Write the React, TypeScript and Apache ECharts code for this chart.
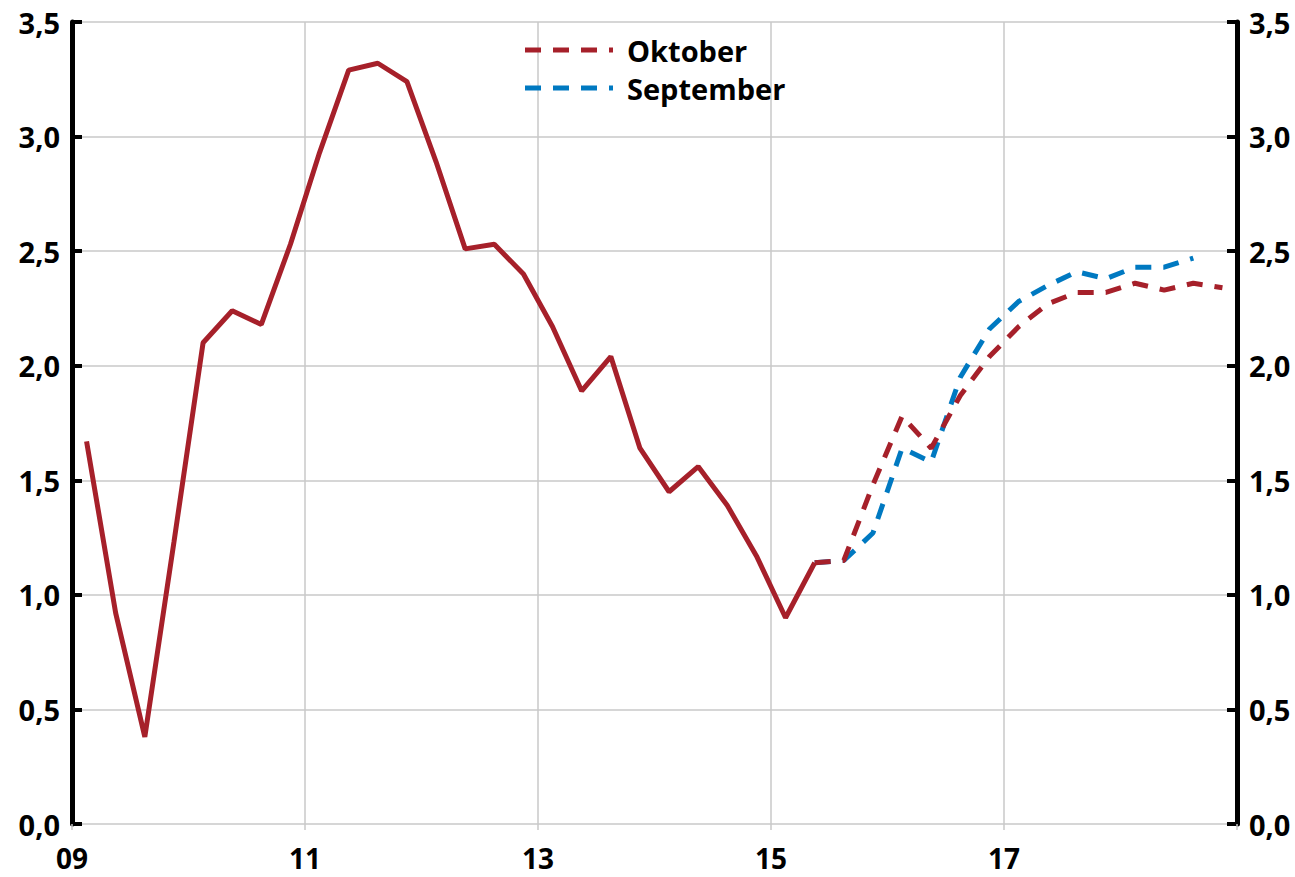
import React, { useEffect, useRef } from "react";
import * as echarts from "echarts";

// Quarterly data, 2009Q1 = index 0
const xTickLabels = ["09", "11", "13", "15", "17"];

// History (2009Q1 .. 2015Q2)
const historyValues = [
  1.67, 0.92, 0.38, 1.23, 2.1, 2.24, 2.18, 2.53, 2.93, 3.29, 3.32, 3.24, 2.89,
  2.51, 2.53, 2.4, 2.17, 1.89, 2.04, 1.64, 1.45, 1.56, 1.39, 1.17, 0.9, 1.14,
];
// Forecasts start at 2015Q2 (index 25)
const forecastStart = 25;
const oktoberValues = [
  1.14, 1.15, 1.48, 1.78, 1.64, 1.87, 2.04, 2.17, 2.27, 2.32, 2.32, 2.36, 2.33,
  2.36, 2.34,
];
const septemberValues = [
  1.14, 1.15, 1.27, 1.64, 1.58, 1.95, 2.16, 2.28, 2.35, 2.41, 2.38, 2.43, 2.43,
  2.47,
];
const legendNames = ["Oktober", "September"];

const RED = "#A6202A";
const BLUE = "#0079C1";
const FONT = "'Open Sans', 'Noto Sans', sans-serif";
const DASH = [16, 12];

const toPoints = (vals: number[], start: number) =>
  vals.map((v, i) => [start + i + 0.5, v]);

export default function App() {
  const ref = useRef<HTMLDivElement>(null);
  useEffect(() => {
    document.body.style.margin = "0";
    const chart = echarts.init(ref.current!, null, { renderer: "svg" });
    const yAxisCommon = {
      type: "value" as const,
      min: 0,
      max: 3.5,
      interval: 0.5,
      axisLine: { show: true, lineStyle: { color: "#000", width: 5 } },
      axisTick: {
        show: true,
        inside: true,
        length: 10,
        lineStyle: { color: "#000", width: 4 },
      },
      axisLabel: {
        color: "#000",
        fontFamily: FONT,
        fontWeight: "bold" as const,
        fontSize: 29,
        margin: 12,
        formatter: (v: number) => v.toFixed(1).replace(".", ","),
      },
    };
    const legendColors = [RED, BLUE];
    const legendGraphics: any[] = [];
    legendNames.forEach((name, i) => {
      const y = 50 + i * 38;
      legendGraphics.push({
        type: "line",
        shape: { x1: 525, y1: y, x2: 613, y2: y },
        style: { stroke: legendColors[i], lineWidth: 5, lineDash: DASH },
        z: 10,
      });
      legendGraphics.push({
        type: "text",
        x: 627,
        y: y,
        style: {
          text: name,
          fill: "#000",
          font: `bold 29px ${FONT}`,
          verticalAlign: "middle",
          align: "left",
        },
        z: 10,
      });
    });
    chart.setOption({
      animation: false,
      grid: { left: 72, right: 58, top: 22, bottom: 53, containLabel: false },
      graphic: legendGraphics,
      xAxis: {
        type: "value",
        min: 0,
        max: 40,
        interval: 8,
        axisLine: { show: false },
        axisTick: {
          show: true,
          length: 6,
          lineStyle: { color: "#c8c8c8", width: 1.5 },
        },
        splitLine: { show: true, lineStyle: { color: "#c8c8c8", width: 1.5 } },
        axisLabel: {
          color: "#000",
          fontFamily: FONT,
          fontWeight: "bold",
          fontSize: 28,
          lineHeight: 28,
          margin: 20,
          formatter: (v: number) => xTickLabels[Math.round(v / 8)] ?? "",
        },
      },
      yAxis: [
        {
          ...yAxisCommon,
          position: "left",
          splitLine: { show: true, lineStyle: { color: "#c8c8c8", width: 1.5 } },
        },
        {
          ...yAxisCommon,
          position: "right",
          splitLine: { show: false },
        },
      ],
      series: [
        {
          name: "September",
          type: "line",
          data: toPoints(septemberValues, forecastStart),
          showSymbol: false,
          symbol: "none",
          lineStyle: { color: BLUE, width: 5, type: DASH },
          itemStyle: { color: BLUE },
          z: 2,
        },
        {
          name: "Oktober",
          type: "line",
          data: toPoints(oktoberValues, forecastStart),
          showSymbol: false,
          symbol: "none",
          lineStyle: { color: RED, width: 5, type: DASH },
          itemStyle: { color: RED },
          z: 3,
        },
        {
          name: "Historik",
          type: "line",
          data: toPoints(historyValues, 0),
          showSymbol: false,
          symbol: "none",
          lineStyle: { color: RED, width: 5 },
          itemStyle: { color: RED },
          z: 4,
        },
      ],
    });
    return () => chart.dispose();
  }, []);
  return <div ref={ref} style={{ width: 1295, height: 877 }} />;
}
